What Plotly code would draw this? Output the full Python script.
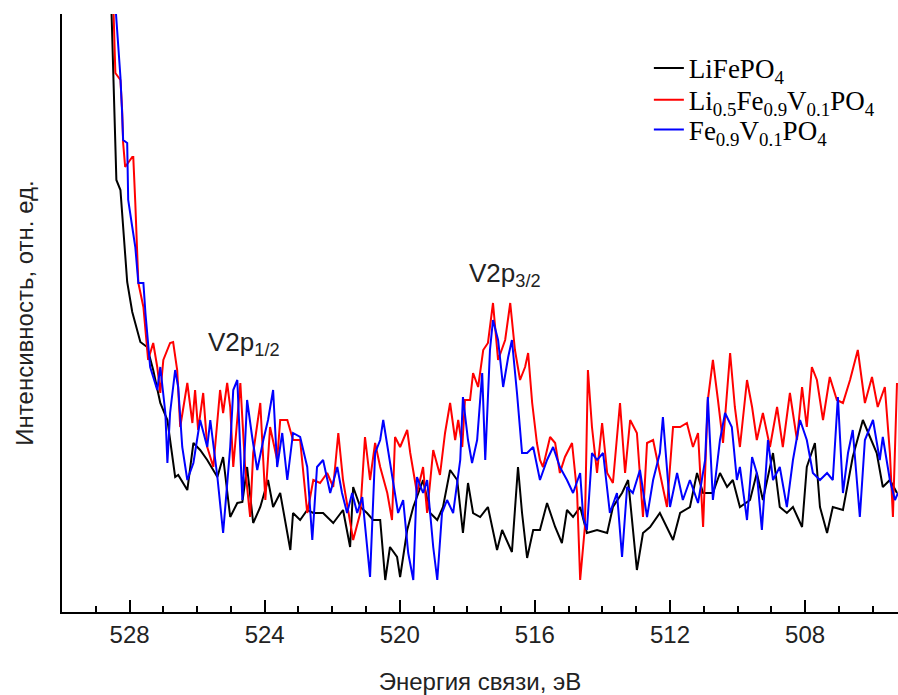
import plotly.graph_objects as go

# Binding energy (eV) and intensity (arb. units)
e_lfp = [528.54, 528.48, 528.42, 528.39, 528.27, 528.19, 528.13, 528.07, 527.98, 527.92, 527.68, 527.48, 527.30,
         527.09, 526.88, 526.65, 526.56, 526.29, 526.11, 525.91, 525.70, 525.40, 525.23, 525.02, 524.81, 524.66,
         524.52, 524.34, 524.13, 523.90, 523.75, 523.54, 523.24, 523.16, 522.95, 522.74, 522.56, 522.27, 521.97,
         521.68, 521.47, 521.38, 521.17, 520.97, 520.79, 520.58, 520.43, 520.29, 520.08, 519.99, 519.78, 519.60,
         519.31, 519.10, 518.89, 518.72, 518.51, 518.30, 518.13, 517.98, 517.83, 517.62, 517.39, 517.12, 516.97,
         516.68, 516.50, 516.38, 516.23, 516.05, 515.85, 515.64, 515.40, 515.20, 515.05, 514.87, 514.66, 514.46,
         514.16, 513.86, 513.69, 513.42, 513.24, 512.98, 512.80, 512.59, 512.30, 511.91, 511.70, 511.41, 511.20,
         511.02, 510.73, 510.52, 510.31, 510.14, 509.93, 509.63, 509.43, 509.25, 508.95, 508.75, 508.54, 508.36,
         508.09, 507.95, 507.71, 507.56, 507.35, 507.18, 506.88, 506.59, 506.29, 506.08, 505.88, 505.70, 505.49,
         505.28]
i_lfp = [607, 527, 462, 432, 422, 385, 359, 330, 312, 300, 270, 265, 242,
         209, 192, 135, 137, 122, 169, 162, 152, 135, 155, 95, 109, 110,
         145, 89, 105, 132, 105, 119, 62, 99, 92, 102, 99, 99, 89,
         102, 65, 125, 105, 99, 92, 92, 32, 65, 55, 35, 82, 105,
         132, 99, 92, 105, 142, 132, 79, 129, 99, 95, 105, 62, 82,
         60, 145, 99, 54, 82, 82, 109, 85, 69, 102, 95, 105, 79,
         82, 79, 105, 119, 132, 42, 79, 85, 99, 72, 99, 105, 139,
         119, 119, 139, 125, 132, 105, 112, 139, 112, 159, 105, 99, 105,
         85, 145, 169, 105, 79, 105, 102, 155, 192, 175, 159, 125, 132,
         119]

e_li05 = [528.48, 528.42, 528.27, 528.22, 528.19, 528.13, 527.92, 527.89, 527.83, 527.77, 527.74, 527.59, 527.45,
          527.30, 527.18, 527.09, 527.00, 526.80, 526.71, 526.59, 526.50, 526.29, 526.14, 526.06, 525.97, 525.82,
          525.70, 525.52, 525.32, 525.23, 525.11, 525.02, 524.93, 524.72, 524.58, 524.43, 524.34, 524.13, 523.98,
          523.84, 523.63, 523.54, 523.33, 523.16, 522.95, 522.74, 522.56, 522.36, 522.15, 521.97, 521.82, 521.68,
          521.47, 521.38, 521.17, 521.03, 520.88, 520.73, 520.58, 520.37, 520.23, 520.14, 519.99, 519.78, 519.69,
          519.49, 519.31, 519.19, 519.01, 518.81, 518.66, 518.51, 518.36, 518.27, 518.15, 518.07, 517.92, 517.83,
          517.68, 517.53, 517.39, 517.24, 517.09, 516.88, 516.73, 516.59, 516.44, 516.29, 516.20, 516.08, 515.94,
          515.85, 515.76, 515.55, 515.40, 515.26, 515.11, 514.90, 514.75, 514.66, 514.52, 514.43, 514.31, 514.16,
          514.01, 513.86, 513.69, 513.48, 513.33, 513.18, 512.98, 512.80, 512.68, 512.50, 512.30, 512.09, 511.91,
          511.70, 511.50, 511.32, 511.17, 511.02, 510.88, 510.73, 510.58, 510.43, 510.22, 510.08, 509.93, 509.72,
          509.57, 509.43, 509.25, 509.04, 508.83, 508.66, 508.45, 508.24, 508.09, 507.95, 507.80, 507.65, 507.47,
          507.27, 507.06, 506.88, 506.67, 506.44, 506.23, 506.02, 505.85, 505.64, 505.49, 505.40, 505.28]
i_li05 = [607, 539, 532, 502, 469, 445, 455, 455, 409, 365, 329, 305, 252,
          269, 245, 219, 252, 269, 270, 242, 185, 229, 189, 222, 182, 219,
          165, 145, 222, 199, 229, 205, 145, 229, 145, 95, 159, 209, 112,
          185, 152, 192, 192, 172, 172, 99, 132, 129, 139, 125, 179, 132,
          89, 72, 99, 175, 132, 169, 145, 119, 92, 175, 165, 182, 159,
          119, 145, 99, 162, 137, 179, 209, 172, 192, 165, 212, 212, 239,
          225, 262, 269, 309, 252, 272, 309, 262, 232, 245, 259, 209, 169,
          152, 145, 175, 169, 139, 155, 169, 119, 32, 85, 242, 185, 139,
          189, 139, 129, 209, 139, 192, 179, 95, 169, 172, 139, 105, 185,
          185, 189, 165, 179, 85, 212, 252, 212, 169, 259, 205, 165, 232,
          205, 172, 199, 165, 205, 165, 219, 172, 225, 185, 245, 232, 192,
          235, 212, 209, 232, 262, 209, 235, 205, 225, 159, 95, 229]

e_fev = [528.42, 528.33, 528.27, 528.22, 528.19, 528.07, 528.04, 527.92, 527.83, 527.74, 527.59, 527.53, 527.39,
         527.18, 527.09, 526.94, 526.88, 526.80, 526.65, 526.56, 526.44, 526.29, 526.11, 525.91, 525.70, 525.61,
         525.40, 525.23, 525.02, 524.93, 524.81, 524.66, 524.52, 524.37, 524.22, 524.04, 523.90, 523.75, 523.63,
         523.48, 523.33, 523.16, 522.95, 522.74, 522.59, 522.45, 522.27, 522.06, 521.85, 521.71, 521.56, 521.41,
         521.26, 521.11, 520.97, 520.88, 520.73, 520.58, 520.49, 520.34, 520.20, 520.05, 519.90, 519.75, 519.60,
         519.49, 519.31, 519.19, 519.01, 518.89, 518.75, 518.60, 518.42, 518.21, 518.13, 517.98, 517.86, 517.71,
         517.56, 517.47, 517.33, 517.24, 517.09, 516.94, 516.79, 516.68, 516.53, 516.38, 516.23, 516.05, 515.85,
         515.64, 515.46, 515.26, 515.05, 514.87, 514.66, 514.57, 514.46, 514.31, 514.16, 513.98, 513.78, 513.57,
         513.42, 513.27, 513.10, 512.89, 512.68, 512.50, 512.30, 512.21, 512.00, 511.79, 511.62, 511.41, 511.17,
         510.96, 510.88, 510.73, 510.52, 510.37, 510.17, 510.02, 509.93, 509.72, 509.57, 509.43, 509.28, 509.10,
         508.95, 508.75, 508.54, 508.36, 508.15, 507.95, 507.77, 507.56, 507.35, 507.18, 507.03, 506.88, 506.73,
         506.59, 506.38, 506.23, 505.99, 505.79, 505.70, 505.49, 505.34, 505.25]
i_fev = [607, 565, 535, 499, 472, 469, 412, 385, 365, 329, 329, 299, 245,
         222, 245, 199, 149, 199, 242, 225, 165, 132, 149, 192, 165, 192,
         135, 79, 165, 222, 232, 112, 212, 175, 142, 172, 192, 222, 145,
         179, 132, 179, 175, 145, 72, 145, 152, 119, 145, 119, 99, 119,
         99, 115, 62, 35, 159, 172, 192, 159, 132, 99, 112, 59, 32,
         135, 119, 132, 65, 32, 99, 112, 99, 152, 215, 172, 149, 172,
         239, 152, 262, 292, 272, 225, 255, 272, 219, 159, 159, 165, 132,
         152, 165, 145, 132, 119, 139, 95, 82, 159, 152, 159, 99, 119,
         55, 125, 119, 142, 95, 132, 159, 195, 105, 139, 112, 132, 109,
         152, 215, 112, 172, 199, 185, 132, 145, 92, 155, 139, 82, 172,
         132, 145, 105, 152, 192, 172, 139, 132, 139, 132, 215, 119, 159,
         182, 95, 172, 192, 152, 175, 132, 112, 119]

names = ["LiFePO<sub>4</sub>",
         "Li<sub>0.5</sub>Fe<sub>0.9</sub>V<sub>0.1</sub>PO<sub>4</sub>",
         "Fe<sub>0.9</sub>V<sub>0.1</sub>PO<sub>4</sub>"]
colors = ["#000000", "#ff0000", "#0000ff"]
legend_ids = ["legend", "legend2", "legend3"]
legend_rows = [0.909, 0.856, 0.806]

peak_labels = ["V2p<sub>1/2</sub>", "V2p<sub>3/2</sub>"]
peak_e = [524.61, 516.88]
peak_i = [269, 338]

fig = go.Figure()
for e, i, n, c, lg in zip([e_lfp, e_li05, e_fev], [i_lfp, i_li05, i_fev], names, colors, legend_ids):
    fig.add_trace(go.Scatter(x=e, y=i, mode="lines", name=n, legend=lg,
                             line=dict(color=c, width=2)))

for t, xe, yi in zip(peak_labels, peak_e, peak_i):
    fig.add_annotation(x=xe, y=yi, text=t, showarrow=False,
                       font=dict(family="Liberation Sans, Arial", size=26, color="#222222"))

legend_style = dict(x=0.702, xanchor="left", yanchor="middle",
                    bgcolor="rgba(0,0,0,0)",
                    font=dict(family="Liberation Serif, Times New Roman", size=27, color="#000"),
                    itemwidth=30)
fig.update_layout(
    width=898, height=695,
    margin=dict(l=62, r=0, t=14, b=83),
    paper_bgcolor="white", plot_bgcolor="white",
    showlegend=True,
    legend=dict(y=legend_rows[0], **legend_style),
    legend2=dict(y=legend_rows[1], **legend_style),
    legend3=dict(y=legend_rows[2], **legend_style),
    font=dict(family="Liberation Sans, Arial", color="#222222"),
)
fig.update_xaxes(
    range=[530, 505.25], showgrid=False, zeroline=False,
    showline=True, linecolor="#000", linewidth=2,
    ticks="inside", ticklen=12, tickwidth=2, tickcolor="#000",
    tick0=508, dtick=4,
    minor=dict(ticks="inside", ticklen=6, tickwidth=2, tickcolor="#000", dtick=1, showgrid=False),
    tickfont=dict(family="Liberation Sans, Arial", size=24, color="#222222"),
    title=dict(text="Энергия связи, эВ", standoff=26,
               font=dict(family="Liberation Sans, Arial", size=24, color="#222222")),
    automargin=False,
)
fig.update_yaxes(
    range=[0, 598], showgrid=False, zeroline=False,
    showline=True, linecolor="#000", linewidth=2,
    showticklabels=False, ticks="",
    title=dict(text="Интенсивность, отн. ед.", standoff=20,
               font=dict(family="Liberation Sans, Arial", size=24, color="#222222")),
    automargin=False,
)

fig.write_html("out.html")
